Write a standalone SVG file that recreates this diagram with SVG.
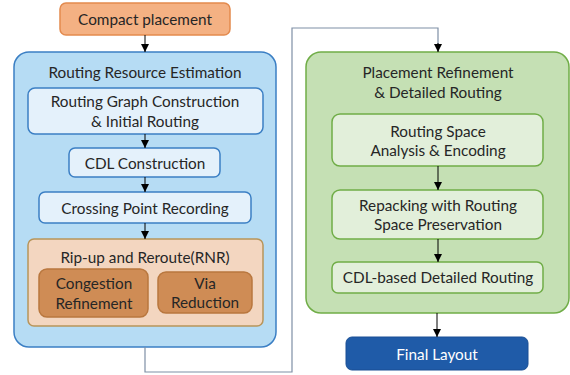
<svg xmlns="http://www.w3.org/2000/svg" width="570" height="375" viewBox="0 0 570 375">
  <defs>
    <marker id="arrow" viewBox="0 0 8 8" refX="8" refY="4" markerWidth="8" markerHeight="8" markerUnits="userSpaceOnUse" orient="auto">
      <path d="M0,0 L8,4 L0,8 Z" fill="#000"/>
    </marker>
    <style>
      text { font-family: "Lato", "Open Sans", "Liberation Sans", sans-serif; font-size: 15.3px; fill: #262626; text-anchor: middle; dominant-baseline: central; }
      .orange { fill: #f4b183; stroke: #e38a4e; stroke-width: 1.5; }
      .outer-blue { fill: #b6dcf4; stroke: #3b7fc4; stroke-width: 1.5; }
      .inner-blue { fill: #e4f1fb; stroke: #3b7fc4; stroke-width: 1.5; }
      .rnr { fill: #f3d6c0; stroke: #b8955a; stroke-width: 1.5; }
      .rnr-item { fill: #cf8c55; stroke: #b9773e; stroke-width: 1.5; }
      .outer-green { fill: #c5e0b4; stroke: #70ad47; stroke-width: 1.5; }
      .inner-green { fill: #e2efda; stroke: #70ad47; stroke-width: 1.5; }
      .final { fill: #1f5ba8; stroke: #1a4f94; stroke-width: 1; }
      .edge { fill: none; stroke: #000; stroke-width: 1; }
      .route { fill: none; stroke: #7f8fa6; stroke-width: 1.2; }
      .white { fill: #ffffff; }
    </style>
  </defs>

  <rect width="570" height="375" fill="#ffffff"/>

  <!-- Compact placement -->
  <g id="compact-placement">
    <rect class="orange" x="60" y="3" width="170" height="32" rx="6"/>
    <text x="145" y="19" font-size="16.6">Compact placement</text>
  </g>

  <!-- Routing Resource Estimation stage -->
  <g id="routing-resource-estimation">
    <rect class="outer-blue" x="14" y="52" width="262" height="295" rx="15"/>
    <text x="145" y="72">Routing Resource Estimation</text>
  </g>
  <g id="routing-graph">
    <rect class="inner-blue" x="28" y="88" width="235" height="46" rx="7"/>
    <text x="145" y="101">Routing Graph Construction</text>
    <text x="145" y="121">&amp; Initial Routing</text>
  </g>
  <g id="cdl-construction">
    <rect class="inner-blue" x="69" y="148" width="151" height="29" rx="6"/>
    <text x="145" y="163">CDL Construction</text>
  </g>
  <g id="crossing-point">
    <rect class="inner-blue" x="39" y="192" width="212" height="31" rx="6"/>
    <text x="145" y="208">Crossing Point Recording</text>
  </g>
  <g id="rnr">
    <rect class="rnr" x="28" y="239" width="235" height="87" rx="6"/>
    <text x="145" y="257">Rip-up and Reroute(RNR)</text>
  </g>
  <g id="congestion-refinement">
    <rect class="rnr-item" x="39" y="269" width="109" height="48" rx="8"/>
    <text x="94" y="283">Congestion</text>
    <text x="94" y="303">Refinement</text>
  </g>
  <g id="via-reduction">
    <rect class="rnr-item" x="158" y="272" width="94" height="41" rx="8"/>
    <text x="205" y="283">Via</text>
    <text x="205" y="302">Reduction</text>
  </g>

  <!-- Placement Refinement & Detailed Routing stage -->
  <g id="placement-refinement">
    <rect class="outer-green" x="306" y="52" width="263" height="261" rx="15"/>
    <text x="438" y="72">Placement Refinement</text>
    <text x="438" y="92">&amp; Detailed Routing</text>
  </g>
  <g id="routing-space">
    <rect class="inner-green" x="332" y="114" width="211" height="52" rx="8"/>
    <text x="438" y="131">Routing Space</text>
    <text x="438" y="150">Analysis &amp; Encoding</text>
  </g>
  <g id="repacking">
    <rect class="inner-green" x="332" y="190" width="211" height="49" rx="8"/>
    <text x="438" y="205">Repacking with Routing</text>
    <text x="438" y="224">Space Preservation</text>
  </g>
  <g id="cdl-detailed-routing">
    <rect class="inner-green" x="332" y="262" width="211" height="31" rx="6"/>
    <text x="438" y="277">CDL-based Detailed Routing</text>
  </g>

  <!-- Final Layout -->
  <g id="final-layout">
    <rect class="final" x="346" y="337" width="182" height="33" rx="6"/>
    <text class="white" x="437" y="354" font-size="16.2">Final Layout</text>
  </g>

  <!-- Connectors -->
  <g id="connectors">
    <line class="edge" x1="145" y1="35" x2="145" y2="52" marker-end="url(#arrow)"/>
    <line class="edge" x1="145" y1="134" x2="145" y2="148" marker-end="url(#arrow)"/>
    <line class="edge" x1="145" y1="177" x2="145" y2="192" marker-end="url(#arrow)"/>
    <line class="edge" x1="145" y1="223" x2="145" y2="239" marker-end="url(#arrow)"/>
    <path class="route" d="M145,347 V372 H292 V28 H438 V44"/>
    <line class="edge" x1="438" y1="43" x2="438" y2="52" marker-end="url(#arrow)"/>
    <line class="edge" x1="438" y1="166" x2="438" y2="190" marker-end="url(#arrow)"/>
    <line class="edge" x1="438" y1="239" x2="438" y2="262" marker-end="url(#arrow)"/>
    <line class="edge" x1="437" y1="313" x2="437" y2="337" marker-end="url(#arrow)"/>
  </g>
</svg>
